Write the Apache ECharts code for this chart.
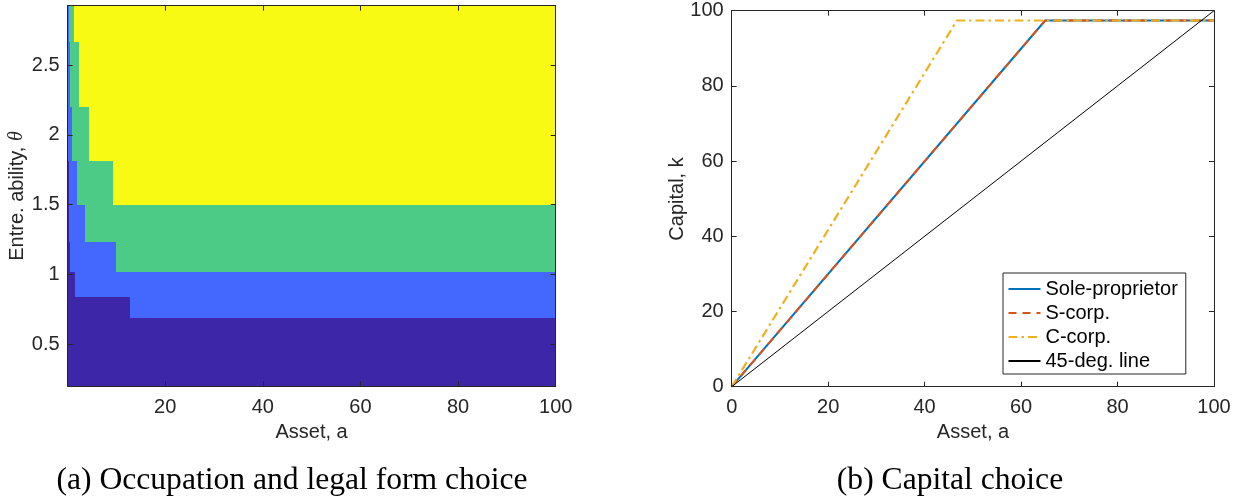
<!DOCTYPE html>
<html><head><meta charset="utf-8">
<script src="https://cdn.jsdelivr.net/npm/echarts@6/dist/echarts.min.js"></script>
<style>html,body{margin:0;padding:0;background:#fff}#c{width:1242px;height:497px}</style>
</head><body><div id="c"></div>
<script>
// ---------- Panel (a): occupation / legal form regions ----------
const thetaEdges = [0.2, 0.69, 0.84, 1.02, 1.235, 1.5, 1.815, 2.2, 2.665, 2.925];
const purpleEnd  = [100, 12.9, 1.57, 0.69, 0.29, 0.29, 0, 0, 0];
const blueEnd    = [100, 100, 100, 10.12, 3.75, 1.98, 1.04, 0.63, 0.35];
const greenEnd   = [100, 100, 100, 100, 100, 9.31, 4.56, 2.53, 1.5];
const assetMax = 100;
const thetaTicks = [0.5, 1, 1.5, 2, 2.5];
const thetaTickLabels = ['0.5', '1', '1.5', '2', '2.5'];
// ---------- Panel (b): capital choice ----------
const seriesNames = ['Sole-proprietor', 'S-corp.', 'C-corp.', '45-deg. line'];
const soleA = [0, 65, 100];   const soleK = [0, 97.4, 97.4];
const sA    = [0, 65, 100];   const sK    = [0, 97.4, 97.4];
const cA    = [0, 46.7, 100]; const cK    = [0, 97.4, 97.4];
const degA  = [0, 100];       const degK  = [0, 100];

const regionColors = ['#3E26A8', '#4468FD', '#4BCB86', '#F8FA13'];
const axisCol = '#262626';
const FONT = 'Liberation Sans, Arial, sans-serif';

// build rectangles [aStart, aEnd, thetaLo, thetaHi, cls]
const rects = [];
for (let i = 0; i < thetaEdges.length - 1; i++) {
  const lo = thetaEdges[i], hi = thetaEdges[i + 1];
  const bounds = [0, purpleEnd[i], blueEnd[i], greenEnd[i], assetMax];
  for (let c = 0; c < 4; c++) {
    if (bounds[c + 1] > bounds[c]) rects.push([bounds[c], bounds[c + 1], lo, hi, c]);
  }
}
const zip = (a, b) => a.map((v, i) => [v, b[i]]);

const tickIn = { show: true, inside: true, length: 5, lineStyle: { color: axisCol, width: 1 } };
const lineAx = { show: true, onZero: false, lineStyle: { color: axisCol, width: 1 } };
const lbl = { color: axisCol, fontSize: 20, fontFamily: FONT };

const chart = echarts.init(document.getElementById('c'), null, { renderer: 'canvas' });
chart.setOption({
  animation: false,
  grid: [
    { left: 67.6, top: 5.7, width: 488.1, height: 380.3 },
    { left: 731.7, top: 10.7, width: 482.3, height: 376 }
  ],
  xAxis: [
    { gridIndex: 0, type: 'value', min: 0, max: 100, interval: 20, position: 'bottom', z: 10,
      axisLine: lineAx, axisTick: tickIn, splitLine: { show: false },
      axisLabel: Object.assign({ margin: 11, formatter: v => v === 0 ? '' : String(v) }, lbl) },
    { gridIndex: 0, type: 'value', min: 0, max: 100, interval: 20, position: 'top', z: 10,
      axisLine: lineAx, axisTick: tickIn, splitLine: { show: false }, axisLabel: { show: false } },
    { gridIndex: 1, type: 'value', min: 0, max: 100, interval: 20, position: 'bottom', z: 10,
      axisLine: lineAx, axisTick: tickIn, splitLine: { show: false },
      axisLabel: Object.assign({ margin: 11 }, lbl) },
    { gridIndex: 1, type: 'value', min: 0, max: 100, interval: 20, position: 'top', z: 10,
      axisLine: lineAx, axisTick: tickIn, splitLine: { show: false }, axisLabel: { show: false } }
  ],
  yAxis: [
    { gridIndex: 0, type: 'value', min: thetaEdges[0], max: thetaEdges[thetaEdges.length - 1], position: 'left', z: 10,
      axisLine: lineAx, axisTick: Object.assign({ customValues: thetaTicks }, tickIn), splitLine: { show: false },
      axisLabel: Object.assign({ margin: 8, customValues: thetaTicks,
        formatter: v => thetaTickLabels[thetaTicks.indexOf(v)] ?? String(v) }, lbl) },
    { gridIndex: 0, type: 'value', min: thetaEdges[0], max: thetaEdges[thetaEdges.length - 1], position: 'right', z: 10,
      axisLine: lineAx, axisTick: Object.assign({ customValues: thetaTicks }, tickIn), splitLine: { show: false },
      axisLabel: { show: false } },
    { gridIndex: 1, type: 'value', min: 0, max: 100, interval: 20, position: 'left', z: 10,
      axisLine: lineAx, axisTick: tickIn, splitLine: { show: false },
      axisLabel: Object.assign({ margin: 8 }, lbl) },
    { gridIndex: 1, type: 'value', min: 0, max: 100, interval: 20, position: 'right', z: 10,
      axisLine: lineAx, axisTick: tickIn, splitLine: { show: false }, axisLabel: { show: false } }
  ],
  legend: {
    data: seriesNames, orient: 'vertical', left: 1003, top: 273,
    padding: [6, 8, 3, 4.5], itemGap: 4, itemWidth: 32, itemHeight: 14,
    borderColor: axisCol, borderWidth: 1, backgroundColor: '#fff',
    itemStyle: { opacity: 0, borderWidth: 0 },
    textStyle: { fontSize: 20, fontFamily: FONT, color: '#000', lineHeight: 20 }
  },
  series: [
    { type: 'custom', xAxisIndex: 0, yAxisIndex: 0, data: rects, encode: { x: [0, 1], y: [2, 3] },
      silent: true, z: 2,
      renderItem: function (params, api) {
        const p0 = api.coord([api.value(0), api.value(3)]);
        const p1 = api.coord([api.value(1), api.value(2)]);
        const x0 = Math.floor(p0[0]), y0 = Math.floor(p0[1]);
        const x1 = Math.ceil(p1[0]), y1 = Math.ceil(p1[1]);
        return { type: 'rect', shape: { x: x0, y: y0, width: Math.max(1, x1 - x0), height: y1 - y0 },
                 style: { fill: regionColors[api.value(4)] } };
      } },
    { name: seriesNames[0], type: 'line', xAxisIndex: 2, yAxisIndex: 2, data: zip(soleA, soleK),
      symbol: 'none', lineStyle: { color: '#0072BD', width: 2 }, itemStyle: { color: '#0072BD' } },
    { name: seriesNames[1], type: 'line', xAxisIndex: 2, yAxisIndex: 2, data: zip(sA, sK),
      symbol: 'none', lineStyle: { color: '#D95319', width: 2, type: [8, 6] }, itemStyle: { color: '#D95319' } },
    { name: seriesNames[2], type: 'line', xAxisIndex: 2, yAxisIndex: 2, data: zip(cA, cK),
      symbol: 'none', lineStyle: { color: '#EDB120', width: 2.2, type: [9, 4, 2.5, 4] }, itemStyle: { color: '#EDB120' } },
    { name: seriesNames[3], type: 'line', xAxisIndex: 2, yAxisIndex: 2, data: zip(degA, degK),
      symbol: 'none', lineStyle: { color: '#000', width: 1 }, itemStyle: { color: '#000' } }
  ],
  graphic: [
    { type: 'text', x: 17, y: 196, rotation: Math.PI / 2,
      style: { text: 'Entre. ability, {i|θ}', fontSize: 20, fontFamily: FONT, fill: axisCol,
               align: 'center', verticalAlign: 'middle',
               rich: { i: { fontStyle: 'italic', fontFamily: 'Liberation Serif, serif', fontSize: 20, fill: axisCol } } } },
    { type: 'text', x: 677, y: 199, rotation: Math.PI / 2,
      style: { text: 'Capital, k', fontSize: 20, fontFamily: FONT, fill: axisCol, align: 'center', verticalAlign: 'middle' } },
    { type: 'text', x: 311.6, y: 432,
      style: { text: 'Asset, a', fontSize: 20, fontFamily: FONT, fill: axisCol, align: 'center', verticalAlign: 'middle' } },
    { type: 'text', x: 973, y: 432,
      style: { text: 'Asset, a', fontSize: 20, fontFamily: FONT, fill: axisCol, align: 'center', verticalAlign: 'middle' } },
    { type: 'text', x: 292, y: 481,
      style: { text: '(a) Occupation and legal form choice', fontSize: 31.6, fontFamily: 'Liberation Serif, serif', fill: '#000', align: 'center', verticalAlign: 'middle' } },
    { type: 'text', x: 950, y: 481,
      style: { text: '(b) Capital choice', fontSize: 31.6, fontFamily: 'Liberation Serif, serif', fill: '#000', align: 'center', verticalAlign: 'middle' } }
  ]
});
</script></body></html>
